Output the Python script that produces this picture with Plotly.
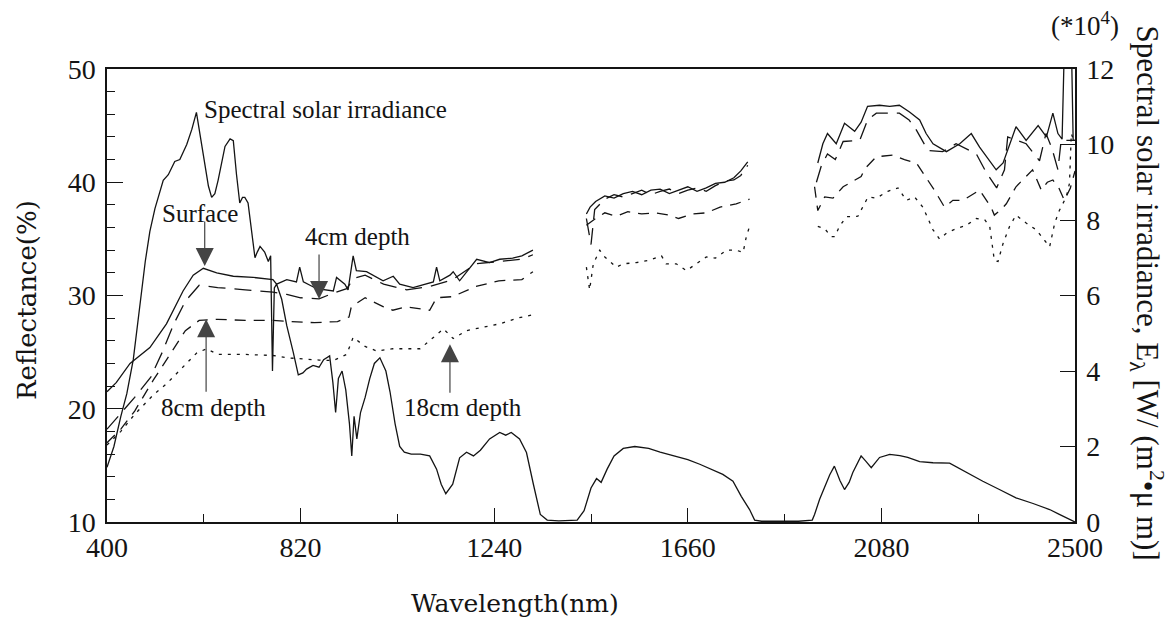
import plotly.graph_objects as go

# ---------------- data ----------------
solar_nm = [400,415,430,443,457,471,483,493,504,522,533,547,558,573,584,594,601,612,620,627,634,641,650,656,667,674,681,688,694,699,706,714,721,726,732,742,750,755,759,763,768,779,790,804,815,825,833,847,860,870,883,890,896,902,910,918,926,931,936,942,950,960,970,980,992,1005,1014,1025,1035,1045,1060,1080,1100,1115,1125,1135,1150,1165,1180,1195,1210,1230,1252,1265,1277,1295,1310,1325,1340,1355,1380,1420,1435,1450,1462,1472,1485,1500,1520,1545,1575,1600,1630,1660,1686,1710,1736,1758,1776,1794,1805,1820,1900,1930,1935,1946,1957,1968,1978,1990,2000,2010,2018,2036,2047,2058,2076,2098,2120,2137,2163,2192,2228,2264,2300,2336,2372,2409,2445,2466,2492,2500]
solar_irr = [1.45,2.0,2.8,3.4,4.3,5.75,6.9,7.7,8.3,9.05,9.2,9.55,9.6,10.0,10.4,10.85,10.3,9.4,8.9,8.6,8.7,9.05,9.6,9.95,10.15,10.1,9.2,8.45,8.6,8.6,8.45,7.6,7.0,7.15,7.3,7.15,6.9,7.05,4.0,6.2,6.3,5.9,5.2,4.5,3.9,3.95,4.05,4.15,4.1,4.3,4.4,3.7,2.9,3.8,4.0,3.5,2.6,1.75,2.8,2.2,2.9,3.3,3.8,4.2,4.35,4.0,3.45,2.6,2.0,1.85,1.8,1.8,1.75,1.4,1.0,0.75,1.0,1.7,1.85,1.75,1.9,2.2,2.37,2.3,2.37,2.2,1.84,1.0,0.2,0.05,0.03,0.05,0.3,0.9,1.15,1.05,1.4,1.75,1.95,2.0,1.95,1.85,1.75,1.65,1.53,1.4,1.26,1.08,0.68,0.33,0.05,0.02,0.02,0.05,0.2,0.6,0.95,1.25,1.48,1.1,0.86,1.05,1.31,1.75,1.6,1.44,1.71,1.79,1.76,1.71,1.6,1.57,1.56,1.31,1.08,0.86,0.64,0.49,0.33,0.2,0.03,0.0]

surf_nm = [400,420,450,493,529,565,587,609,638,674,717,746,760,768,790,811,818,826,855,891,898,916,923,934,941,963,985,999,1021,1035,1064,1108,1115,1122,1144,1151,1165,1180,1202,1230,1252,1280,1300,1324,1380,1440,1448,1460,1480,1500,1520,1540,1560,1580,1600,1620,1640,1660,1680,1700,1720,1740,1760,1775,1790,1860,1942,1953,1963,1982,2000,2022,2036,2050,2076,2098,2119,2141,2163,2177,2192,2221,2250,2275,2293,2329,2344,2372,2394,2420,2438,2452,2463,2472,2476,2493,2496,2500]
surf_refl = [21.5,22.3,24.0,25.4,27.5,30.4,31.8,32.4,32.0,31.7,31.6,31.5,31.4,31.0,31.4,31.2,32.5,31.2,30.6,30.4,31.6,31.0,30.5,33.5,32.2,32.1,31.6,31.3,31.7,31.0,30.7,31.2,32.5,31.3,31.8,32.1,31.3,32.1,33.2,32.9,33.2,33.3,33.5,34.0,None,37.2,37.8,38.3,38.8,38.6,39.0,39.2,38.9,39.3,39.4,39.0,39.3,39.6,39.2,39.5,39.9,40.0,40.4,41.0,41.8,None,41.7,43.4,44.3,43.4,45.2,44.5,45.3,46.7,46.8,46.7,46.8,46.2,45.5,44.3,43.4,42.7,43.4,44.3,43.1,41.1,41.7,44.9,43.7,45.0,44.0,46.1,44.3,43.8,50.5,50.5,43.7,43.7]

d4_nm = [400,430,460,495,520,545,570,600,640,700,740,760,790,820,860,890,920,935,960,1000,1050,1100,1150,1200,1250,1300,1324,1380,1440,1450,1458,1480,1500,1520,1540,1560,1580,1600,1620,1640,1660,1680,1700,1720,1740,1760,1775,1790,1860,1939,1950,1963,1980,1997,2033,2050,2069,2119,2140,2156,2181,2213,2242,2286,2307,2330,2347,2354,2394,2423,2437,2450,2463,2470,2500]
d4_refl = [18.2,19.6,21.0,22.8,25.0,27.5,29.5,30.9,30.7,30.5,30.4,30.3,30.1,29.8,29.7,30.2,30.6,31.5,31.8,31.0,30.5,30.8,31.4,32.8,33.0,33.2,33.6,None,36.8,34.5,37.6,38.5,38.9,38.7,39.0,39.3,38.9,39.2,39.4,39.0,39.3,39.5,39.2,39.7,40.1,40.2,40.6,41.5,None,40.0,41.5,42.5,42.0,43.6,43.7,45.5,46.1,46.1,45.5,44.6,42.8,42.7,43.4,42.5,40.9,39.5,41.1,44.0,43.4,41.9,44.3,43.0,41.1,43.7,43.7]

d8_nm = [400,430,460,500,540,570,600,640,700,760,800,850,900,925,930,960,1000,1020,1050,1100,1115,1150,1200,1250,1300,1324,1380,1440,1460,1480,1505,1530,1560,1590,1620,1640,1670,1700,1730,1765,1794,1860,1935,1942,1957,1975,1997,2036,2044,2069,2105,2130,2156,2184,2195,2217,2235,2257,2293,2318,2325,2340,2351,2372,2408,2427,2440,2452,2465,2477,2490,2500]
d8_refl = [17.0,18.2,19.8,22.5,25.0,26.9,27.8,27.9,27.8,27.8,27.7,27.6,27.7,28.1,29.0,29.8,29.0,28.7,29.0,28.7,29.8,29.9,30.8,31.3,31.4,32.1,None,36.2,36.8,37.3,37.0,37.4,37.2,37.3,37.1,36.8,37.2,37.3,37.8,38.1,38.5,None,39.6,37.5,38.7,38.6,39.6,40.5,41.2,42.25,42.4,42.0,41.7,40.0,39.3,37.8,38.4,38.4,39.3,37.8,37.1,37.6,38.1,39.6,41.1,39.3,40.0,40.2,39.5,38.4,39.5,41.0]

d18_nm = [400,430,460,500,529,565,594,616,640,700,760,790,820,860,891,920,934,960,985,1020,1079,1108,1130,1151,1180,1216,1252,1290,1324,1380,1440,1447,1455,1469,1480,1505,1520,1548,1575,1603,1613,1635,1657,1680,1700,1720,1744,1765,1780,1787,1794,1860,1942,1957,1971,1979,1989,2004,2029,2040,2051,2069,2094,2116,2134,2152,2170,2192,2206,2221,2242,2264,2286,2304,2315,2325,2333,2344,2358,2372,2394,2416,2434,2445,2456,2466,2481,2488,2492,2497]
d18_refl = [16.8,18.0,19.5,21.2,22.2,23.7,24.9,25.3,24.8,24.8,24.7,24.5,24.4,24.3,24.25,24.8,26.3,25.5,25.1,25.3,25.3,26.3,27.05,26.2,26.9,27.2,27.5,28.0,28.3,None,32.5,30.5,32.8,34.0,33.4,32.5,32.8,32.9,33.1,33.5,32.8,32.8,32.2,32.8,33.4,33.3,34.0,34.0,33.8,35.2,36.1,None,36.1,35.9,35.2,35.2,36.1,36.96,37.0,37.8,38.7,38.6,39.2,39.5,38.4,38.7,37.8,35.8,35.0,35.5,35.9,36.2,36.8,36.7,36.1,33.1,33.0,34.6,36.1,37.1,36.4,35.8,34.9,34.3,36.4,37.5,38.7,39.9,44.3,43.7]

x_ticks = [400, 820, 1240, 1660, 2080, 2500]
y_ticks = [10, 20, 30, 40, 50]
y2_ticks = [0, 2, 4, 6, 8, 10, 12]

INK = "#141414"
SERIF = "Liberation Serif"
TITLE = "DejaVu Serif"
W = 1.3

fig = go.Figure()
fig.add_trace(go.Scatter(x=solar_nm, y=solar_irr, yaxis="y2", mode="lines",
                         line=dict(color=INK, width=W), name="Spectral solar irradiance"))
fig.add_trace(go.Scatter(x=surf_nm, y=surf_refl, mode="lines",
                         line=dict(color=INK, width=W), name="Surface"))
fig.add_trace(go.Scatter(x=d4_nm, y=d4_refl, mode="lines",
                         line=dict(color=INK, width=W, dash="17px,9px"), name="4cm depth"))
fig.add_trace(go.Scatter(x=d8_nm, y=d8_refl, mode="lines",
                         line=dict(color=INK, width=W, dash="11px,8px"), name="8cm depth"))
fig.add_trace(go.Scatter(x=d18_nm, y=d18_refl, mode="lines",
                         line=dict(color=INK, width=W, dash="3px,6px"), name="18cm depth"))

tickfont = dict(family=SERIF, size=28, color=INK)

fig.update_layout(
    width=1168, height=618,
    margin=dict(l=107, r=93, t=69, b=96),
    paper_bgcolor="white", plot_bgcolor="white",
    showlegend=False,
    font=dict(family=SERIF, color=INK),
    xaxis=dict(range=[400, 2500], tickvals=x_ticks, ticks="inside", ticklen=14, tickwidth=1.2,
               tickcolor=INK, showline=True, linecolor=INK, linewidth=1.5, mirror=True,
               showgrid=False, zeroline=False, tickfont=tickfont,
               minor=dict(tick0=400, dtick=210, ticks="inside", ticklen=8, tickcolor=INK, tickwidth=1.2)),
    yaxis=dict(range=[10, 50], tickvals=y_ticks, ticks="inside", ticklen=16, tickwidth=1.2,
               tickcolor=INK, showline=True, linecolor=INK, linewidth=1.5,
               showgrid=False, zeroline=False, tickfont=tickfont, ticklabelstandoff=4,
               minor=dict(tick0=10, dtick=2, ticks="inside", ticklen=8, tickcolor=INK, tickwidth=1.2)),
    yaxis2=dict(range=[0, 12], tickvals=y2_ticks, overlaying="y", side="right", ticks="inside",
                ticklen=15, tickwidth=1.2, tickcolor=INK, showline=True, linecolor=INK, linewidth=1.5,
                showgrid=False, zeroline=False, tickfont=tickfont, ticklabelstandoff=4),
)

ann_font = dict(family=SERIF, size=25, color=INK)
arrow = dict(text="", showarrow=True, arrowhead=2, arrowsize=3.0, arrowwidth=1.2,
             arrowcolor="#444444", ax=0)
annotations = [
    dict(x=606, y=46.4, text="Spectral solar irradiance", showarrow=False, xanchor="left", font=ann_font),
    dict(x=601, y=37.2, text="Surface", showarrow=False, font=ann_font),
    dict(x=944, y=35.2, text="4cm depth", showarrow=False, font=ann_font),
    dict(x=632, y=20.1, text="8cm depth", showarrow=False, font=ann_font),
    dict(x=1172, y=20.1, text="18cm depth", showarrow=False, font=ann_font),
    dict(arrow, x=612, y=32.6, ay=-46),
    dict(arrow, x=860, y=29.7, ay=-46),
    dict(arrow, x=615, y=27.9, ay=74),
    dict(arrow, x=1144, y=25.7, ay=50),
    # axis titles
    dict(xref="paper", yref="paper", x=-0.0826, xanchor="center", y=0.49, yanchor="middle",
         text="Reflectance(%)", textangle=-90, showarrow=False,
         font=dict(family=TITLE, size=26, color=INK)),
    dict(xref="paper", yref="paper", x=0.421, xanchor="center", y=-0.179, yanchor="middle",
         text="Wavelength(nm)", showarrow=False, font=dict(family=TITLE, size=25, color=INK)),
    dict(xref="paper", yref="paper", x=1.074, xanchor="center", y=0.505, yanchor="middle",
         text="Spectral solar irradiance, E<sub>λ</sub> [W/ (m<sup>2</sup>•μ m)]",
         textangle=90, showarrow=False, font=dict(family=SERIF, size=31, color=INK)),
    dict(xref="paper", yref="paper", x=1.0103, xanchor="center", y=1.099, yanchor="middle",
         text="(*10<sup>4</sup>)", showarrow=False, font=dict(family=SERIF, size=27, color=INK)),
]
fig.update_layout(annotations=annotations)

fig.write_html("out.html")
